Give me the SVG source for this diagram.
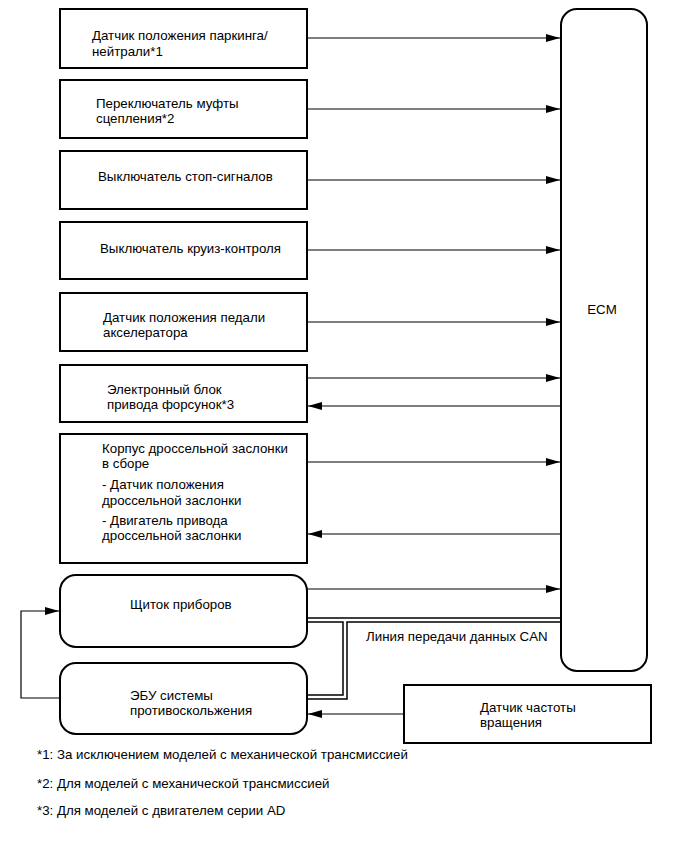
<svg xmlns="http://www.w3.org/2000/svg" width="690" height="855" viewBox="0 0 690 855">
<style>
.box{fill:#fff;stroke:#000;stroke-width:2}
.ln{fill:none;stroke:#000;stroke-width:1.2}
.can{fill:none;stroke:#000;stroke-width:5.5}
.canw{fill:none;stroke:#fff;stroke-width:2.5}
text{font-family:"Liberation Sans",Arial,sans-serif;font-size:13.3px;fill:#000}
</style>
<defs>
<marker id="ah" markerUnits="userSpaceOnUse" markerWidth="15" markerHeight="9" refX="14" refY="4" orient="auto">
<path d="M0,0 L14,4 L0,8 z" fill="#000"/>
</marker>
</defs>
<rect width="690" height="855" fill="#fff"/>
<g id="connectors">
<path class="ln" d="M307,38 H560" marker-end="url(#ah)"/>
<path class="ln" d="M307,109 H560" marker-end="url(#ah)"/>
<path class="ln" d="M307,180 H560" marker-end="url(#ah)"/>
<path class="ln" d="M307,250 H560" marker-end="url(#ah)"/>
<path class="ln" d="M307,322 H560" marker-end="url(#ah)"/>
<path class="ln" d="M307,378 H560" marker-end="url(#ah)"/>
<path class="ln" d="M561,406 H308" marker-end="url(#ah)"/>
<path class="ln" d="M307,462 H560" marker-end="url(#ah)"/>
<path class="ln" d="M561,534 H308" marker-end="url(#ah)"/>
<path class="ln" d="M307,589 H560" marker-end="url(#ah)"/>
<path class="ln" d="M404,714 H308" marker-end="url(#ah)"/>
<path class="ln" d="M60,698 H21 V611 H59" marker-end="url(#ah)"/>
<path class="can" d="M307,620 H561 M307,697 H345 V620"/>
<path class="canw" d="M307,697 H345 V620 M307,620 H561"/>
<text x="366" y="641">Линия передачи данных CAN</text>
</g>
<g id="n1"><rect class="box" x="60" y="9" width="247" height="59"/><text x="92" y="40">Датчик положения паркинга/</text><text x="92" y="56">нейтрали*1</text></g>
<g id="n2"><rect class="box" x="60" y="80" width="247" height="58"/><text x="96" y="108">Переключатель муфты</text><text x="96" y="123">сцепления*2</text></g>
<g id="n3"><rect class="box" x="60" y="151" width="247" height="58"/><text x="98" y="181">Выключатель стоп-сигналов</text></g>
<g id="n4"><rect class="box" x="60" y="222" width="247" height="57"/><text x="100" y="253">Выключатель круиз-контроля</text></g>
<g id="n5"><rect class="box" x="60" y="293" width="247" height="58"/><text x="103" y="322">Датчик положения педали</text><text x="103" y="337">акселератора</text></g>
<g id="n6"><rect class="box" x="60" y="365" width="247" height="57"/><text x="107" y="394">Электронный блок</text><text x="107" y="409">привода форсунок*3</text></g>
<g id="n7"><rect class="box" x="60" y="434" width="247" height="129"/>
<text x="102" y="453">Корпус дроссельной заслонки</text><text x="102" y="468">в сборе</text>
<text x="102" y="489">- Датчик положения</text><text x="102" y="505">дроссельной заслонки</text>
<text x="102" y="525">- Двигатель привода</text><text x="102" y="540">дроссельной заслонки</text></g>
<g id="n8"><rect class="box" x="60" y="575" width="247" height="72" rx="16"/><text x="130" y="609">Щиток приборов</text></g>
<g id="n9"><rect class="box" x="60" y="663" width="247" height="71" rx="16"/><text x="130" y="700">ЭБУ системы</text><text x="130" y="715">противоскольжения</text></g>
<g id="ecm"><rect class="box" x="561" y="9" width="86" height="662" rx="16"/><text x="602" y="314" text-anchor="middle">ECM</text></g>
<g id="n10"><rect class="box" x="404" y="685" width="247" height="58"/><text x="480" y="712">Датчик частоты</text><text x="480" y="727">вращения</text></g>
<g id="notes">
<text x="37" y="759">*1: За исключением моделей с механической трансмиссией</text>
<text x="37" y="788">*2: Для моделей с механической трансмиссией</text>
<text x="37" y="815">*3: Для моделей с двигателем серии AD</text>
</g>
</svg>
